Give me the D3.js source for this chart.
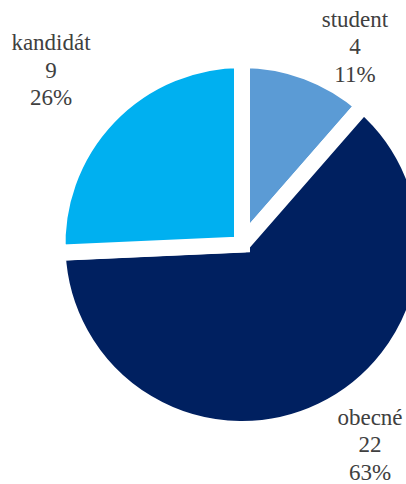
<!DOCTYPE html>
<html>
<head>
<meta charset="utf-8">
<script src="https://cdn.jsdelivr.net/npm/d3@7/dist/d3.min.js"></script>
<style>
  html, body { margin: 0; padding: 0; background: #fff; overflow: hidden; }
  svg { display: block; }
</style>
</head>
<body>
<script>
// Membership categories and counts
const categories = ["student", "obecné", "kandidát"];
const counts = [4, 22, 9];
const colors = ["#5B9BD5", "#002060", "#00B0F0"];

const width = 406, height = 484;
const cx = 242, cy = 244.5;
const gap = 16;                 // white separator between slices
const radius = 176.5 + gap / 2; // stroke trims half the gap off the rim

// First-baseline anchor of each three-line label, relative to the pie centre
const labelOffsets = [[113, -218], [128, 180], [-191, -194.5]];
const lineStep = 27.5;

// Pick the first installed serif face (measured against a monospace fallback)
function pickSerif(cands) {
  const ctx = document.createElement("canvas").getContext("2d");
  const probe = "kandidát obecné 0123456789%";
  for (const f of cands) {
    let same = true;
    for (const base of ["monospace", "sans-serif"]) {
      ctx.font = `40px ${base}`;
      const w0 = ctx.measureText(probe).width;
      ctx.font = `40px "${f}", ${base}`;
      if (Math.abs(ctx.measureText(probe).width - w0) > 0.5) same = false;
    }
    if (!same) return `"${f}"`;
  }
  return "serif";
}
const labelFont = pickSerif(["Liberation Serif", "Tinos", "Times New Roman", "Times", "DejaVu Serif", "Noto Serif", "FreeSerif"]);

const svg = d3.select("body").append("svg")
  .attr("width", width)
  .attr("height", height);

const total = d3.sum(counts);
const data = categories.map((c, i) => ({ name: c, value: counts[i], color: colors[i], off: labelOffsets[i] }));

const pie = d3.pie().value(d => d.value).sort(null);
const arc = d3.arc().innerRadius(0).outerRadius(radius);

const g = svg.append("g").attr("transform", `translate(${cx},${cy})`);

g.selectAll("path.slice")
  .data(pie(data))
  .join("path")
  .attr("class", "slice")
  .attr("d", arc)
  .attr("fill", d => d.data.color)
  .attr("stroke", "#fff")
  .attr("stroke-width", gap)
  .attr("stroke-linejoin", "miter");

const labels = g.selectAll("text.label")
  .data(data)
  .join("text")
  .attr("class", "label")
  .attr("x", d => d.off[0])
  .attr("y", d => d.off[1])
  .attr("text-anchor", "middle")
  .style("font-family", labelFont + ", serif")
  .attr("font-size", 23)
  .attr("fill", "#404040");

labels.each(function (d) {
  const t = d3.select(this);
  const lines = [d.name, String(d.value), Math.round(d.value / total * 100) + "%"];
  lines.forEach((s, i) => {
    t.append("tspan")
      .attr("x", d.off[0])
      .attr("dy", i === 0 ? 0 : lineStep)
      .text(s);
  });
});
</script>
</body>
</html>
